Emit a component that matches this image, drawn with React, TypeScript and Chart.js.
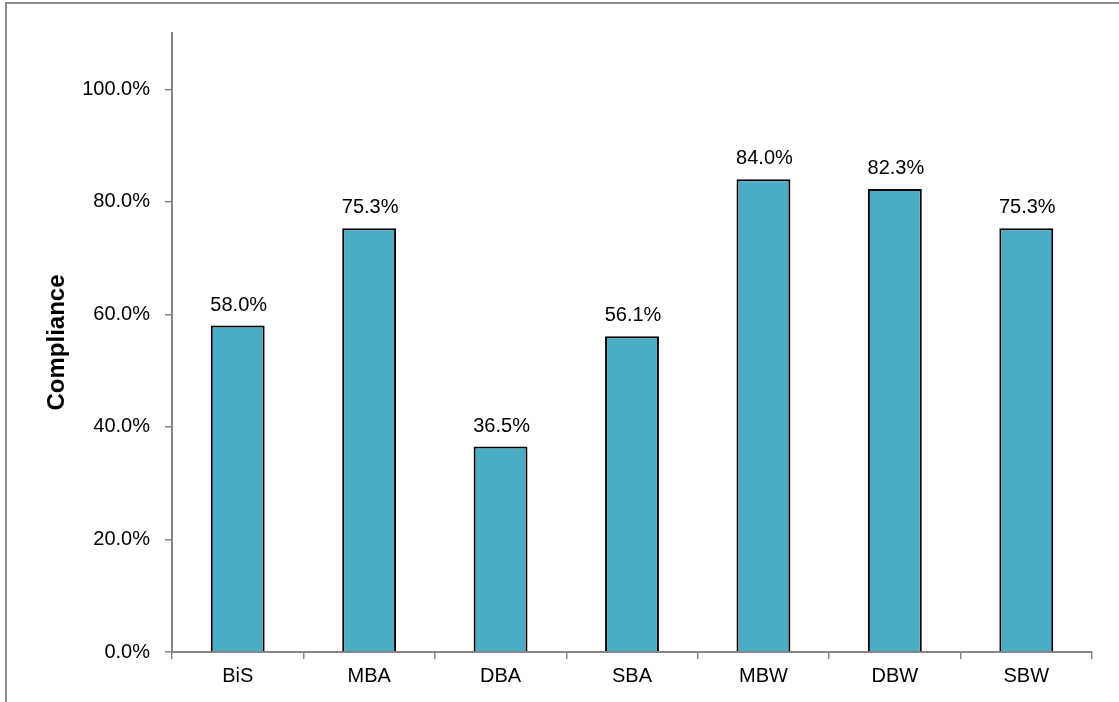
import React, { useEffect, useRef } from "react";
import { Chart, registerables } from "chart.js";

Chart.register(...registerables);

const categories = ["BiS", "MBA", "DBA", "SBA", "MBW", "DBW", "SBW"];
const compliance = [58.0, 75.3, 36.5, 56.1, 84.0, 82.3, 75.3];
const yTickValues = [0, 20, 40, 60, 80, 100];

const FONT = "'Liberation Sans', Arial, sans-serif";
const AXIS = "#868686";

const labelPlugin = {
  id: "barLabels",
  afterDatasetsDraw(chart: any) {
    const ctx = chart.ctx;
    const meta = chart.getDatasetMeta(0);
    ctx.save();
    ctx.font = `20px ${FONT}`;
    ctx.fillStyle = "#000";
    ctx.textAlign = "center";
    ctx.textBaseline = "alphabetic";
    meta.data.forEach((el: any, i: number) => {
      ctx.fillText(compliance[i].toFixed(1) + "%", el.x + 1, el.y - 15);
    });
    ctx.restore();
  },
};

export default function App() {
  const ref = useRef<HTMLCanvasElement>(null);
  useEffect(() => {
    if (!ref.current) return;
    const chart = new Chart(ref.current, {
      type: "bar",
      data: {
        labels: categories,
        datasets: [
          {
            data: compliance,
            backgroundColor: "#4BACC6",
            borderColor: "#000000",
            borderWidth: 2,
            borderSkipped: "bottom",
            categoryPercentage: 1,
            barPercentage: 0.41,
          },
        ],
      },
      plugins: [labelPlugin],
      options: {
        animation: false,
        responsive: false,
        maintainAspectRatio: false,
        layout: { padding: { top: 33, right: 27, left: 0, bottom: 0 } },
        plugins: { legend: { display: false }, tooltip: { enabled: false } },
        scales: {
          x: {
            grid: {
              offset: true,
              drawOnChartArea: false,
              drawTicks: true,
              tickLength: 7,
              color: AXIS,
              lineWidth: 1.5,
            },
            border: { display: true, color: AXIS, width: 2 },
            ticks: {
              color: "#000",
              font: { family: FONT, size: 20 },
              padding: 5,
            },
            afterFit(scale: any) {
              scale.height = 50;
            },
          },
          y: {
            min: 0,
            max: 110,
            afterBuildTicks(scale: any) {
              scale.ticks = yTickValues.map((v) => ({ value: v }));
            },
            grid: {
              drawOnChartArea: false,
              drawTicks: true,
              tickLength: 7,
              color: AXIS,
              lineWidth: 1.5,
            },
            border: { display: true, color: AXIS, width: 2 },
            ticks: {
              color: "#000",
              font: { family: FONT, size: 20 },
              padding: 15,
              callback: (v: any) => Number(v).toFixed(1) + "%",
            },
            title: {
              display: true,
              text: "Compliance",
              color: "#000",
              font: { family: FONT, size: 24, weight: "bold" },
              padding: { top: 43, bottom: 0 },
            },
            afterFit(scale: any) {
              scale.width = 172;
            },
          },
        },
      },
    });
    return () => chart.destroy();
  }, []);

  return (
    <div
      style={{
        position: "fixed",
        left: 0,
        top: 0,
        width: 1119,
        height: 702,
        background: "#fff",
        overflow: "hidden",
      }}
    >
      <div
        style={{
          position: "absolute",
          left: 5,
          top: 2,
          width: 1200,
          height: 800,
          borderLeft: "2px solid #8c8c8c",
          borderTop: "2px solid #8c8c8c",
        }}
      />
      <canvas
        ref={ref}
        width={1119}
        height={702}
        style={{ position: "absolute", left: 0, top: 0, width: 1119, height: 702 }}
      />
    </div>
  );
}
